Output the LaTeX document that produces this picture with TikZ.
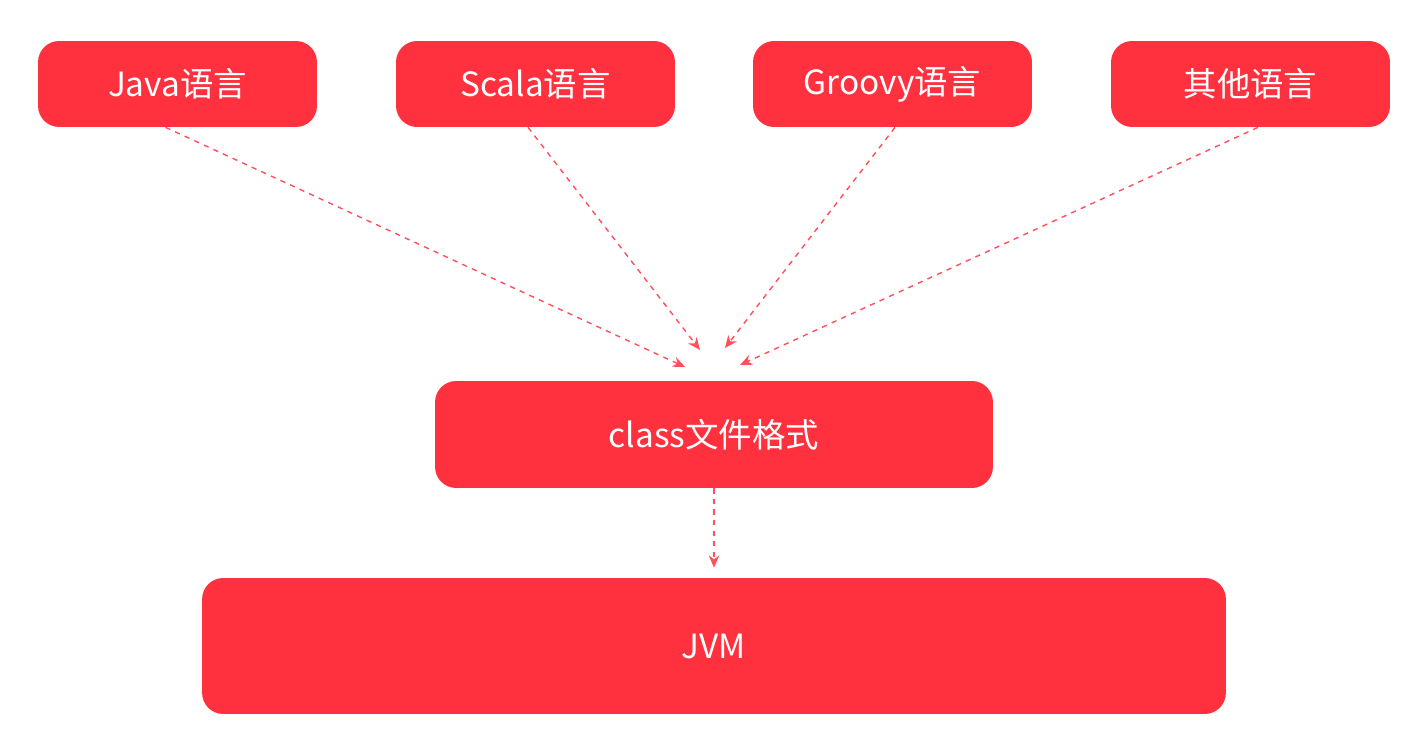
\documentclass[tikz,border=0pt]{standalone}
\usepackage{fontspec}
\setmainfont{Noto Sans CJK SC}
\usetikzlibrary{arrows.meta,positioning,calc}
\definecolor{boxred}{HTML}{FF313F}

\begin{document}
\begin{tikzpicture}[
    x=0.02cm, y=-0.02cm,
    lang/.style={fill=boxred, rounded corners=12pt, text=white, align=center,
                minimum width=5.58cm, minimum height=1.72cm, font=\fontsize{19}{23}\selectfont},
    link/.style={-{Stealth[length=7pt,width=6pt]}, dashed, thick, boxred!85},
]
\useasboundingbox (0,0) rectangle (1425,756);

\node[lang] at (177.5,84) (java) {Java语言};
\node[lang] at (535.5,84) (scala) {Scala语言};
\node[lang] at (892.5,84) (groovy) {Groovy语言};
\node[lang] at (1250.5,84) (other) {其他语言};

\node[lang, minimum width=11.16cm, minimum height=2.14cm] at (714,434.5) (classfmt) {class文件格式};
\node[lang, minimum width=20.48cm, minimum height=2.72cm] at (714,646) (jvm) {JVM};

\coordinate (tjava) at (685,367);
\coordinate (tscala) at (700,350);
\coordinate (tgroovy) at (725,348);
\coordinate (tother) at (740,365);

\draw[link] ([xshift=-0.24cm]java.south) -- (tjava);
\draw[link] ([xshift=-0.15cm]scala.south) -- (tscala);
\draw[link] ([xshift=0.05cm]groovy.south) -- (tgroovy);
\draw[link] ([xshift=0.15cm]other.south) -- (tother);
\draw[link] (classfmt.south) -- ([yshift=0.2cm]jvm.north);

\end{tikzpicture}
\end{document}
